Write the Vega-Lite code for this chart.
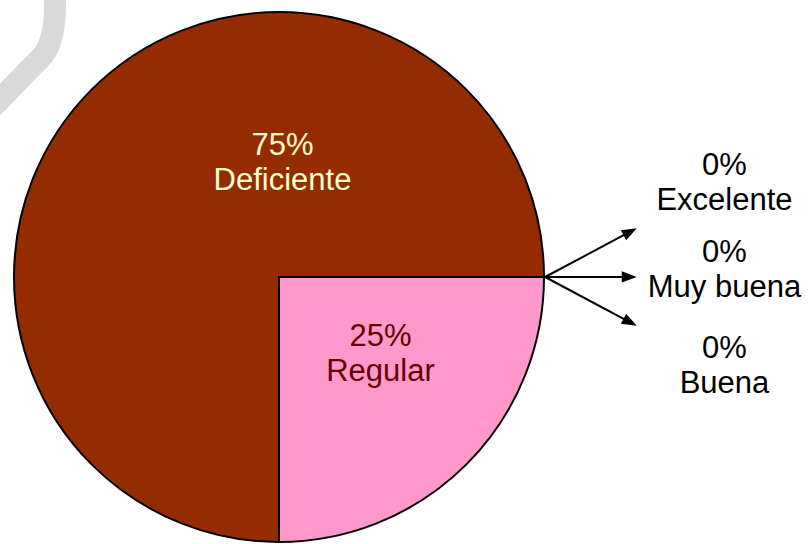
{
  "$schema": "https://vega.github.io/schema/vega-lite/v6.json",
  "width": 809,
  "height": 544,
  "autosize": "none",
  "padding": 0,
  "background": "white",
  "config": {
    "view": {"stroke": null},
    "text": {"font": "Liberation Sans", "fontSize": 31, "lineHeight": 35, "baseline": "alphabetic", "align": "center", "lineBreak": "\n"}
  },
  "datasets": {
    "evaluacion": [
      {"categoria": "Regular", "proporcion": 0.25, "orden": 1},
      {"categoria": "Deficiente", "proporcion": 0.75, "orden": 2},
      {"categoria": "Excelente", "proporcion": 0, "orden": 3},
      {"categoria": "Muy buena", "proporcion": 0, "orden": 4},
      {"categoria": "Buena", "proporcion": 0, "orden": 5}
    ],
    "trazo": [
      {"u": -84.5, "v": 109.1},
      {"u": -84.9, "v": 95.8},
      {"u": -87.7, "v": 85.7},
      {"u": -95.2, "v": 77.4},
      {"u": -110.9, "v": 61.1}
    ]
  },
  "data": {"name": "evaluacion"},
  "transform": [
    {"calculate": "format(datum.proporcion, '.0%') + '\\n' + datum.categoria", "as": "etiqueta"}
  ],
  "layer": [
    {
      "data": {"name": "trazo"},
      "transform": [],
      "mark": {"type": "line", "stroke": "#d9d9d9", "strokeWidth": 22, "interpolate": "cardinal", "strokeCap": "butt"},
      "encoding": {
        "x": {"field": "u", "type": "quantitative", "axis": null, "scale": {"domain": [-105.283, 200], "nice": false, "zero": false}},
        "y": {"field": "v", "type": "quantitative", "axis": null, "scale": {"domain": [-100.755, 104.528], "nice": false, "zero": false}},
        "order": {"value": null}
      }
    },
    {
      "mark": {"type": "arc", "outerRadius": 265, "stroke": "#000000", "strokeWidth": 2},
      "encoding": {
        "x": {"datum": 0, "type": "quantitative", "axis": null},
        "y": {"datum": 0, "type": "quantitative", "axis": null},
        "theta": {"field": "proporcion", "type": "quantitative", "stack": true, "scale": {"range": [1.5708, 7.854]}},
        "order": {"field": "orden", "type": "ordinal"},
        "color": {
          "field": "categoria", "type": "nominal", "legend": null,
          "scale": {
            "domain": ["Regular", "Deficiente", "Excelente", "Muy buena", "Buena"],
            "range": ["#ff99cc", "#952c00", "#9999ff", "#ffffcc", "#ccffff"]
          }
        }
      }
    },
    {
      "transform": [{"filter": "datum.categoria === 'Deficiente'"}],
      "mark": {"type": "text", "fill": "#ffffcc"},
      "encoding": {
        "x": {"datum": 1.32, "type": "quantitative", "axis": null},
        "y": {"datum": 46.0, "type": "quantitative", "axis": null},
        "text": {"field": "etiqueta"}
      }
    },
    {
      "transform": [{"filter": "datum.categoria === 'Regular'"}],
      "mark": {"type": "text", "fill": "#660000"},
      "encoding": {
        "x": {"datum": 38.3, "type": "quantitative", "axis": null},
        "y": {"datum": -25.9, "type": "quantitative", "axis": null},
        "text": {"field": "etiqueta"}
      }
    },
    {
      "transform": [{"filter": "datum.categoria === 'Excelente'"}],
      "layer": [
        {
          "mark": {"type": "text", "fill": "#000000"},
          "encoding": {
            "x": {"datum": 168.1, "type": "quantitative", "axis": null},
            "y": {"datum": 38.5, "type": "quantitative", "axis": null},
            "text": {"field": "etiqueta"}
          }
        },
        {
          "mark": {"type": "rule", "stroke": "#000000", "strokeWidth": 2},
          "encoding": {
            "x": {"datum": 100.4, "type": "quantitative", "axis": null},
            "y": {"datum": 0, "type": "quantitative", "axis": null},
            "x2": {"datum": 132.0},
            "y2": {"datum": 16.8}
          }
        },
        {
          "mark": {"type": "point", "shape": "M0,0L-2,-0.75L-2,0.75Z", "size": 225, "filled": true, "fill": "#000000", "strokeWidth": 0, "opacity": 1, "angle": -28},
          "encoding": {
            "x": {"datum": 135.0, "type": "quantitative", "axis": null},
            "y": {"datum": 18.4, "type": "quantitative", "axis": null}
          }
        }
      ]
    },
    {
      "transform": [{"filter": "datum.categoria === 'Muy buena'"}],
      "layer": [
        {
          "mark": {"type": "text", "fill": "#000000"},
          "encoding": {
            "x": {"datum": 168.1, "type": "quantitative", "axis": null},
            "y": {"datum": 5.8, "type": "quantitative", "axis": null},
            "text": {"field": "etiqueta"}
          }
        },
        {
          "mark": {"type": "rule", "stroke": "#000000", "strokeWidth": 2},
          "encoding": {
            "x": {"datum": 100.4, "type": "quantitative", "axis": null},
            "y": {"datum": 0, "type": "quantitative", "axis": null},
            "x2": {"datum": 132.0},
            "y2": {"datum": 0}
          }
        },
        {
          "mark": {"type": "point", "shape": "M0,0L-2,-0.75L-2,0.75Z", "size": 225, "filled": true, "fill": "#000000", "strokeWidth": 0, "opacity": 1, "angle": 0},
          "encoding": {
            "x": {"datum": 135.0, "type": "quantitative", "axis": null},
            "y": {"datum": 0, "type": "quantitative", "axis": null}
          }
        }
      ]
    },
    {
      "transform": [{"filter": "datum.categoria === 'Buena'"}],
      "layer": [
        {
          "mark": {"type": "text", "fill": "#000000"},
          "encoding": {
            "x": {"datum": 168.1, "type": "quantitative", "axis": null},
            "y": {"datum": -30.6, "type": "quantitative", "axis": null},
            "text": {"field": "etiqueta"}
          }
        },
        {
          "mark": {"type": "rule", "stroke": "#000000", "strokeWidth": 2},
          "encoding": {
            "x": {"datum": 100.4, "type": "quantitative", "axis": null},
            "y": {"datum": 0, "type": "quantitative", "axis": null},
            "x2": {"datum": 132.0},
            "y2": {"datum": -16.8}
          }
        },
        {
          "mark": {"type": "point", "shape": "M0,0L-2,-0.75L-2,0.75Z", "size": 225, "filled": true, "fill": "#000000", "strokeWidth": 0, "opacity": 1, "angle": 28},
          "encoding": {
            "x": {"datum": 135.0, "type": "quantitative", "axis": null},
            "y": {"datum": -18.4, "type": "quantitative", "axis": null}
          }
        }
      ]
    }
  ]
}
